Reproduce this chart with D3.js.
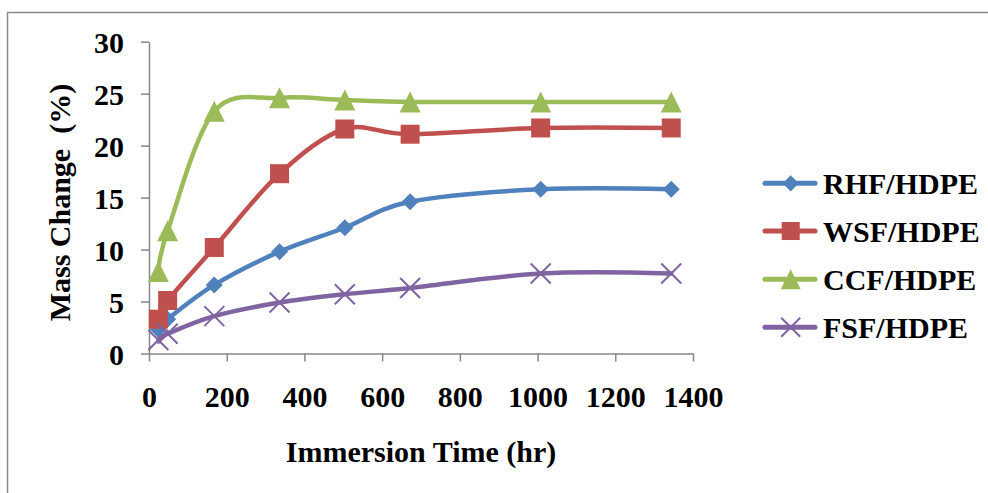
<!DOCTYPE html>
<html>
<head>
<meta charset="utf-8">
<script src="https://cdn.jsdelivr.net/npm/d3@7"></script>
<style>
  html, body { margin: 0; padding: 0; background: #fff; }
  svg { display: block; }
  text { font-family: "Liberation Serif", "Times New Roman", serif; font-weight: bold; fill: #000; }
</style>
</head>
<body>
<svg id="chart" width="988" height="493"></svg>
<script>
// ---- data ----
const hours = [24, 48, 168, 336, 504, 672, 1008, 1344];
const seriesNames = ["RHF/HDPE", "WSF/HDPE", "CCF/HDPE", "FSF/HDPE"];
const rhf = [2.3, 3.3, 6.6, 9.8, 12.1, 14.6, 15.8, 15.8];
const wsf = [3.3, 5.1, 10.2, 17.3, 21.6, 21.1, 21.7, 21.7];
const ccf = [7.9, 11.8, 23.3, 24.6, 24.4, 24.2, 24.2, 24.2];
const fsf = [1.3, 1.9, 3.6, 4.9, 5.7, 6.3, 7.7, 7.7];
const xTicks = [0, 200, 400, 600, 800, 1000, 1200, 1400];
const yTicks = [0, 5, 10, 15, 20, 25, 30];
const xTitle = "Immersion Time (hr)";
const yTitle = "Mass Change  (%)";

const allValues = [rhf, wsf, ccf, fsf];
const colors = ["#4F81BD", "#C0504D", "#9BBB59", "#8064A2"];
const markers = ["diamond", "square", "triangle", "cross"];

// ---- layout ----
const svg = d3.select("#chart");
const plot = { left: 149, right: 693, top: 41.7, bottom: 353.5 };

// outer border (only left and top visible)
svg.append("rect")
  .attr("x", 7.5).attr("y", 12.5)
  .attr("width", 1000).attr("height", 600)
  .attr("fill", "none").attr("stroke", "#8a8a8a").attr("stroke-width", 1.5);

const x = d3.scaleLinear().domain([0, 1400]).range([plot.left, plot.right]);
const y = d3.scaleLinear().domain([0, 30]).range([plot.bottom, plot.top]);

const fontSize = 30;

// axes
const xAxis = d3.axisBottom(x).tickValues(xTicks).tickFormat(d3.format("d"))
  .tickSizeOuter(0).tickSizeInner(8).tickPadding(14);
const yAxis = d3.axisLeft(y).tickValues(yTicks).tickFormat(d3.format("d"))
  .tickSizeOuter(0).tickSizeInner(8).tickPadding(17);

const gx = svg.append("g").attr("transform", `translate(0,${plot.bottom})`).call(xAxis);
const gy = svg.append("g").attr("transform", `translate(${plot.left},0)`).call(yAxis);

[gx, gy].forEach(g => {
  g.select(".domain").attr("stroke", "#868686").attr("stroke-width", 1.5);
  g.selectAll(".tick line").attr("stroke", "#868686").attr("stroke-width", 1.5);
  g.selectAll(".tick text")
    .attr("font-family", "Liberation Serif, Times New Roman, serif")
    .attr("font-weight", "bold")
    .attr("font-size", fontSize)
    .attr("fill", "#000");
});
gx.selectAll(".tick text").attr("dy", "1.05em");
gy.selectAll(".tick text").attr("dy", "0.36em");

// axis titles
svg.append("text")
  .attr("x", (plot.left + plot.right) / 2)
  .attr("y", 462)
  .attr("text-anchor", "middle")
  .attr("font-size", fontSize)
  .text(xTitle);

svg.append("text")
  .attr("transform", `translate(70,${(plot.top + plot.bottom) / 2 + 5}) rotate(-90)`)
  .attr("text-anchor", "middle")
  .attr("font-size", fontSize)
  .style("white-space", "pre")
  .attr("xml:space", "preserve")
  .text(yTitle);

// marker drawing
function drawMarker(g, type, color, cx, cy, scale) {
  const s = scale || 1;
  if (type === "diamond") {
    const r = 8.5 * s;
    g.append("path")
      .attr("d", `M${cx},${cy - r}L${cx + r},${cy}L${cx},${cy + r}L${cx - r},${cy}Z`)
      .attr("fill", color);
  } else if (type === "square") {
    const h = 9.5 * s;
    g.append("rect")
      .attr("x", cx - h).attr("y", cy - h)
      .attr("width", 2 * h).attr("height", 2 * h)
      .attr("fill", color);
  } else if (type === "triangle") {
    const h = 10.5 * s;
    g.append("path")
      .attr("d", `M${cx},${cy - h}L${cx + h},${cy + h}L${cx - h},${cy + h}Z`)
      .attr("fill", color);
  } else if (type === "cross") {
    const h = 10 * s;
    g.append("path")
      .attr("d", `M${cx - h},${cy - h}L${cx + h},${cy + h}M${cx - h},${cy + h}L${cx + h},${cy - h}`)
      .attr("stroke", color).attr("stroke-width", 2).attr("fill", "none");
  }
}

// series lines
const line = d3.line()
  .x(d => x(d[0]))
  .y(d => y(d[1]))
  .curve(d3.curveCardinal.tension(0));

allValues.forEach((vals, i) => {
  const pts = hours.map((h, j) => [h, vals[j]]);
  const g = svg.append("g");
  g.append("path")
    .attr("d", line(pts))
    .attr("fill", "none")
    .attr("stroke", colors[i])
    .attr("stroke-width", 4.5)
    .attr("stroke-linejoin", "round")
    .attr("stroke-linecap", "round");
  pts.forEach(p => drawMarker(g, markers[i], colors[i], x(p[0]), y(p[1]), 1));
});

// legend
const legend = svg.append("g");
const legRows = [183.3, 231, 279.3, 327.3];
seriesNames.forEach((name, i) => {
  const ly = legRows[i];
  legend.append("line")
    .attr("x1", 765).attr("x2", 815)
    .attr("y1", ly).attr("y2", ly)
    .attr("stroke", colors[i]).attr("stroke-width", 5)
    .attr("stroke-linecap", "round");
  drawMarker(legend, markers[i], colors[i], 790.7, ly, 0.95);
  legend.append("text")
    .attr("x", 823)
    .attr("y", ly)
    .attr("dy", "0.36em")
    .attr("font-size", fontSize)
    .text(name);
});
</script>
</body>
</html>
